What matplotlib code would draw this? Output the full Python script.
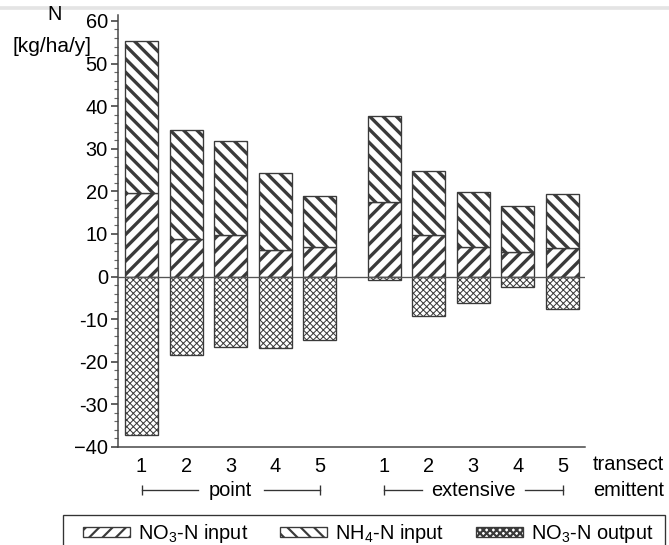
import numpy as np
import matplotlib
matplotlib.use('Agg')
import matplotlib.pyplot as plt
import matplotlib.transforms as mtransforms
from matplotlib.patches import Rectangle
from matplotlib.ticker import MultipleLocator, FuncFormatter

plt.rcParams['font.family'] = ['Liberation Sans', 'DejaVu Sans']
plt.rcParams['mathtext.fontset'] = 'custom'
plt.rcParams['mathtext.rm'] = 'Liberation Sans'

## data
transects = ['1', '2', '3', '4', '5']
groups = ['point', 'extensive']
no3_in_point = [19.6, 8.8, 9.8, 6.3, 7.0]
total_in_point = [55.4, 34.3, 31.8, 24.2, 19.0]
no3_out_point = [-37.2, -18.3, -16.5, -16.8, -14.9]
no3_in_ext = [17.5, 9.8, 7.0, 5.8, 6.6]
total_in_ext = [37.6, 24.7, 19.8, 16.5, 19.4]
no3_out_ext = [-0.8, -9.3, -6.2, -2.4, -7.5]

no3_in = np.array(no3_in_point + no3_in_ext)
nh4_in = np.array(total_in_point + total_in_ext) - no3_in
no3_out = np.array(no3_out_point + no3_out_ext)

pos_point = np.arange(1, 6)
pos_ext = np.arange(1, 6) + 5.44
pos = np.concatenate([pos_point, pos_ext])
w = 0.74
fs = 12

fig = plt.figure(figsize=(669 / 120, 545 / 120), dpi=120)
ax = fig.add_axes([118 / 669, 98 / 545, 467 / 669, 432 / 545])

edge = '#3a3a3a'
with plt.rc_context({'hatch.linewidth': 2.0}):
    b1 = ax.bar(pos, no3_in, w, color='white', edgecolor=edge, hatch='///',
                linewidth=0.8, label='NO$_\\mathregular{3}$-N input')
    b2 = ax.bar(pos, nh4_in, w, bottom=no3_in, color='white', edgecolor=edge,
                hatch='\\\\\\', linewidth=0.8, label='NH$_\\mathregular{4}$-N input')
with plt.rc_context({'hatch.linewidth': 0.6}):
    b3 = ax.bar(pos, no3_out, w, color='white', edgecolor=edge, hatch='xxxxxx',
                linewidth=0.8, label='NO$_\\mathregular{3}$-N output')

ax.axhline(0, color='#555555', lw=0.8, zorder=5)

ax.set_xlim(0.473, 10.944)
ax.set_ylim(-40, 61.4)
ax.yaxis.set_major_locator(MultipleLocator(10))
ax.yaxis.set_minor_locator(MultipleLocator(2))
ax.yaxis.set_major_formatter(FuncFormatter(lambda v, p: '\u221240' if round(v) == -40 else f'{v:.0f}'))
ax.tick_params(axis='y', which='major', length=4, width=0.9, pad=2, labelsize=fs, color='#333333')
ax.tick_params(axis='y', which='minor', length=2.5, width=0.7, color='#666666')
ax.set_xticks(pos)
ax.set_xticklabels(transects * 2)
ax.tick_params(axis='x', length=0, pad=6, labelsize=fs)
for s in ['top', 'right']:
    ax.spines[s].set_visible(False)
for s in ['left', 'bottom']:
    ax.spines[s].set_color('#444444')
    ax.spines[s].set_linewidth(0.9)

# unit label
fig.text(55 / 669, 1 - 15 / 545, 'N', ha='center', va='center', fontsize=fs)
fig.text(52 / 669, 1 - 46 / 545, '[kg/ha/y]', ha='center', va='center', fontsize=12.5)

# group brackets under the tick labels
tr = mtransforms.blended_transform_factory(ax.transData, ax.transAxes)
yb = -0.0998
for name, p, half in [(groups[0], pos_point, 0.74), (groups[1], pos_ext, 1.15)]:
    c = p.mean()
    ax.plot([p[0], c - half], [yb, yb], color='#333333', lw=0.8, transform=tr, clip_on=False)
    ax.plot([c + half, p[-1]], [yb, yb], color='#333333', lw=0.8, transform=tr, clip_on=False)
    ax.plot([p[0], p[-1]], [yb, yb], ls='none', marker='|', ms=6, mew=0.8, color='#333333',
            transform=tr, clip_on=False)
    ax.text(c, yb, name, ha='center', va='center', fontsize=fs, transform=tr)

fig.text(593 / 669, 1 - 465 / 545, 'transect', ha='left', va='center', fontsize=fs)
fig.text(593 / 669, 1 - 490 / 545, 'emittent', ha='left', va='center', fontsize=fs)

# faint line at the top edge
fig.add_artist(plt.Line2D([0, 1], [1 - 8 / 545, 1 - 8 / 545], color='#e4e4e4', lw=2.2))

# legend box runs off the bottom edge, so draw its frame by hand
fig.add_artist(Rectangle((63 / 669, -0.05), (665 - 63) / 669, 0.05 + 30 / 545,
                         transform=fig.transFigure, facecolor='none',
                         edgecolor='#333333', lw=0.8))
with plt.rc_context({'hatch.linewidth': 1.3}):
    leg = fig.legend(handles=[b1, b2, b3], loc='upper left', ncol=3,
                     bbox_to_anchor=(83 / 669, 1 - 522 / 545), frameon=False,
                     fontsize=fs, handlelength=2.35, handleheight=0.4,
                     handletextpad=0.4, columnspacing=1.6, borderpad=0, borderaxespad=0)

fig.savefig('out.png', dpi=120)
